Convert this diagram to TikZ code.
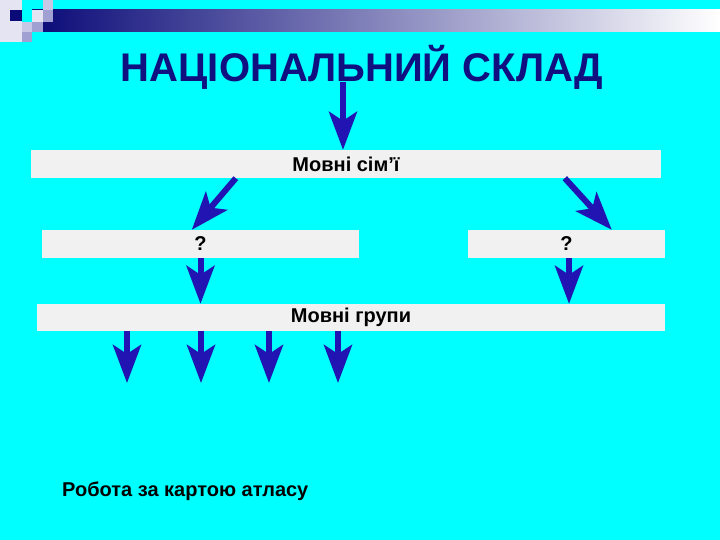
\documentclass[tikz,border=0pt]{standalone}
\usepackage{fontspec}
\setmainfont{Liberation Sans}
\usetikzlibrary{arrows.meta,calc}
\definecolor{bgcyan}{RGB}{0,255,255}
\definecolor{boxgray}{RGB}{241,241,241}
\definecolor{arrblue}{RGB}{34,20,178}
\definecolor{titleblue}{RGB}{16,16,128}
\definecolor{navy}{RGB}{10,10,120}
\definecolor{lav1}{RGB}{228,228,242}
\definecolor{lav2}{RGB}{200,200,230}
\definecolor{lav3}{RGB}{160,160,210}
\begin{document}
\begin{tikzpicture}[x=1pt,y=-1pt,
  box/.style={fill=boxgray, draw=none, minimum height=28pt, inner sep=0pt,
    font=\fontsize{20}{23}\selectfont\bfseries, text=black},
  arr/.style={draw=arrblue, line width=6pt,
    -{Stealth[length=38pt, width=28pt, inset=9pt, fill=arrblue]}},
  lbl/.style={font=\fontsize{20}{23}\selectfont\bfseries, text=black, inner sep=0pt}]
\fill[bgcyan] (0,0) rectangle (720,540);
\useasboundingbox (0,0) rectangle (720,540);
% decoration
\fill[lav1] (0,0) rectangle (22,42);
\fill[navy] (10,10) rectangle (22,21);
\shade[left color=navy, right color=white] (32,10) rectangle (720,32);
\fill[lav1] (32,10) rectangle (43,22);
\fill[lav2] (43,0) rectangle (53,10);
\fill[lav3] (43,10) rectangle (53,22);
\fill[lav2] (22,22) rectangle (32,32);
\fill[lav3] (32,22) rectangle (43,32);
\fill[lav3] (22,32) rectangle (32,42);
% title
\node[font=\fontsize{40}{46}\selectfont\bfseries, text=titleblue, inner sep=0pt] (title) at (362,67) {НАЦІОНАЛЬНИЙ СКЛАД};
% boxes
\node[box, minimum width=630pt] (fam) at (346,164) {Мовні сім’ї};
\node[box, minimum width=317pt] (q1) at (200.5,244) {?};
\node[box, minimum width=197pt] (q2) at (566.5,244) {?};
\node[box, minimum width=628pt, minimum height=27pt] (grp) at (351,317.5) {Мовні групи};
% arrows
\coordinate (a0) at (343,82);
\draw[arr] (a0) -- (a0 |- fam.north);
\draw[arr] ($(fam.south west)+(205,0)$) -- ($(q1.north west)+(150,0)$);
\draw[arr] ($(fam.south west)+(534,0)$) -- ($(q2.north west)+(144,0)$);
\draw[arr] (q1.south) -- (q1.south |- grp.north);
\coordinate (q2s) at ($(q2.south)+(2.5,0)$);
\draw[arr] (q2s) -- (q2s |- grp.north);
\foreach \x [count=\i] in {127,201,269,338}{
  \coordinate (g\i) at (\x,383);
  \draw[arr] (g\i |- grp.south) -- (g\i);
}
% footer
\node[lbl, anchor=west] (work) at (62,491) {Робота за картою атласу};
\end{tikzpicture}
\end{document}
